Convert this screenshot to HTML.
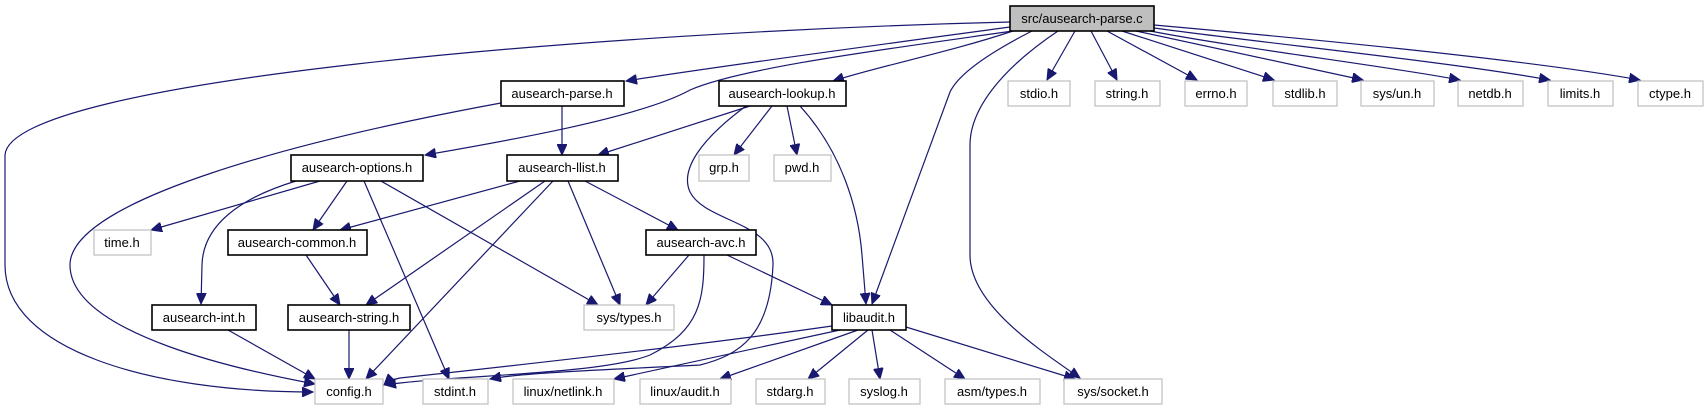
<!DOCTYPE html>
<html><head><meta charset="utf-8"><style>
html,body{margin:0;padding:0;background:#fff;}
svg{display:block;}
text{font-family:"Liberation Sans",Arial,sans-serif;font-size:13px;fill:#000;text-anchor:middle;}
.n{fill:#fff;stroke:#000;stroke-width:1.6;}
.g{fill:#fff;stroke:#bfbfbf;stroke-width:1.2;}
.r{fill:#bfbfbf;stroke:#000;stroke-width:1.6;}
path{fill:none;stroke:#191970;stroke-width:1.2;}
</style></head><body>
<svg width="1704" height="411" viewBox="0 0 1704 411" xmlns="http://www.w3.org/2000/svg">
<defs><marker id="a" markerUnits="userSpaceOnUse" markerWidth="12" markerHeight="10" refX="11" refY="5" orient="auto"><path d="M0,0 L11,5 L0,10 z" style="fill:#191970;stroke:#191970;stroke-width:1"/></marker></defs>
<g marker-end="url(#a)">
<path d="M1010,22 C600,32 10,80 5,155 L5,265 C5,350 150,392 313,392"/>
<path d="M1010,27 C900,42 720,66 626,81"/>
<path d="M1013,31 C880,50 740,68 690,90 C640,118 500,142 425,155"/>
<path d="M1013,31 C950,52 880,66 833,81"/>
<path d="M1032,31 C985,55 958,75 950,92 L872,304"/>
<path d="M1058,31 C1000,70 970,110 970,145 L970,255 C970,305 1040,350 1080,378"/>
<path d="M1075,31 L1047,80"/>
<path d="M1091,31 L1117,80"/>
<path d="M1107,31 L1197,80"/>
<path d="M1122,31 L1274,80"/>
<path d="M1136,31 L1363,80"/>
<path d="M1150,31 C1250,50 1380,65 1460,80"/>
<path d="M1154,28 C1280,45 1450,62 1550,80"/>
<path d="M1154,25 C1300,38 1530,60 1640,80"/>
<path d="M562,106 L562,155"/>
<path d="M501,103 C300,140 70,200 70,265 C70,335 250,372 315,384"/>
<path d="M750,106 L598,155"/>
<path d="M772,106 L734,155"/>
<path d="M787,106 L797,155"/>
<path d="M800,106 C840,150 858,205 862,255 L866,304"/>
<path d="M746,106 C700,140 680,170 690,192 C705,222 775,222 773,265 C770,335 740,355 700,365 C600,370 520,373 490,379"/>
<path d="M320,181 L151,230"/>
<path d="M347,181 L313,230"/>
<path d="M381,181 L598,305"/>
<path d="M364,181 L449,379"/>
<path d="M296,181 C240,198 203,225 202,265 L201,304"/>
<path d="M520,181 L340,230"/>
<path d="M545,181 L366,305"/>
<path d="M553,181 L366,379"/>
<path d="M568,181 L620,305"/>
<path d="M585,181 L678,230"/>
<path d="M306,255 L340,305"/>
<path d="M349,330 L349,379"/>
<path d="M228,330 L315,379"/>
<path d="M689,255 L646,305"/>
<path d="M727,255 L832,305"/>
<path d="M704,255 C704,300 700,330 650,355 C600,375 450,375 385,385"/>
<path d="M832,326 C700,345 520,365 400,378 C390,380 386,383 384,385"/>
<path d="M840,330 L614,379"/>
<path d="M858,330 L720,379"/>
<path d="M868,330 L808,379"/>
<path d="M872,330 L880,379"/>
<path d="M890,330 L965,379"/>
<path d="M906,327 L1075,379"/>
</g>
<rect class="r" x="1010" y="6" width="144" height="25"/><text x="1082" y="23">src/ausearch-parse.c</text>
<rect class="n" x="501" y="81" width="123" height="25"/><text x="562" y="98">ausearch-parse.h</text>
<rect class="n" x="719" y="81" width="127" height="25"/><text x="782" y="98">ausearch-lookup.h</text>
<rect class="g" x="1008" y="81" width="62" height="25"/><text x="1039" y="98">stdio.h</text>
<rect class="g" x="1095" y="81" width="65" height="25"/><text x="1127" y="98">string.h</text>
<rect class="g" x="1185" y="81" width="62" height="25"/><text x="1216" y="98">errno.h</text>
<rect class="g" x="1273" y="81" width="64" height="25"/><text x="1305" y="98">stdlib.h</text>
<rect class="g" x="1361" y="81" width="73" height="25"/><text x="1397" y="98">sys/un.h</text>
<rect class="g" x="1458" y="81" width="65" height="25"/><text x="1490" y="98">netdb.h</text>
<rect class="g" x="1548" y="81" width="65" height="25"/><text x="1580" y="98">limits.h</text>
<rect class="g" x="1638" y="81" width="65" height="25"/><text x="1670" y="98">ctype.h</text>
<rect class="n" x="291" y="155" width="132" height="26"/><text x="357" y="172">ausearch-options.h</text>
<rect class="n" x="507" y="155" width="111" height="26"/><text x="562" y="172">ausearch-llist.h</text>
<rect class="g" x="699" y="155" width="50" height="26"/><text x="724" y="172">grp.h</text>
<rect class="g" x="774" y="155" width="57" height="26"/><text x="802" y="172">pwd.h</text>
<rect class="g" x="94" y="230" width="57" height="25"/><text x="122" y="247">time.h</text>
<rect class="n" x="228" y="230" width="139" height="25"/><text x="297" y="247">ausearch-common.h</text>
<rect class="n" x="646" y="230" width="110" height="25"/><text x="701" y="247">ausearch-avc.h</text>
<rect class="n" x="152" y="305" width="104" height="25"/><text x="204" y="322">ausearch-int.h</text>
<rect class="n" x="288" y="305" width="122" height="25"/><text x="349" y="322">ausearch-string.h</text>
<rect class="g" x="584" y="305" width="90" height="25"/><text x="629" y="322">sys/types.h</text>
<rect class="n" x="832" y="305" width="74" height="25"/><text x="869" y="322">libaudit.h</text>
<rect class="g" x="315" y="379" width="68" height="25"/><text x="349" y="396">config.h</text>
<rect class="g" x="423" y="379" width="65" height="25"/><text x="455" y="396">stdint.h</text>
<rect class="g" x="513" y="379" width="101" height="25"/><text x="563" y="396">linux/netlink.h</text>
<rect class="g" x="640" y="379" width="91" height="25"/><text x="685" y="396">linux/audit.h</text>
<rect class="g" x="756" y="379" width="69" height="25"/><text x="790" y="396">stdarg.h</text>
<rect class="g" x="849" y="379" width="71" height="25"/><text x="884" y="396">syslog.h</text>
<rect class="g" x="945" y="379" width="95" height="25"/><text x="992" y="396">asm/types.h</text>
<rect class="g" x="1064" y="379" width="98" height="25"/><text x="1113" y="396">sys/socket.h</text>
</g>
</svg>
</body></html>
